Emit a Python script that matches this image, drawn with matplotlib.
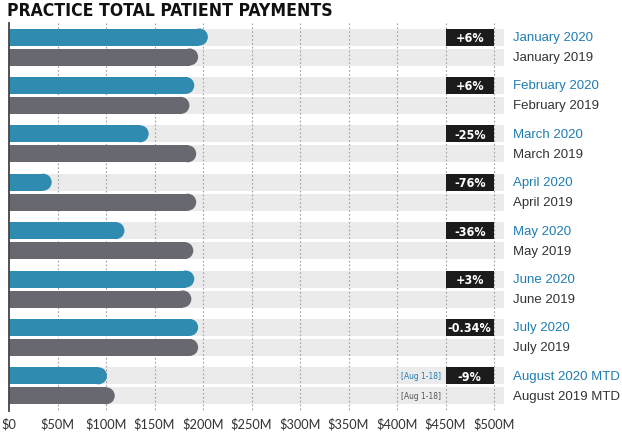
import matplotlib
matplotlib.use("Agg")
import matplotlib.pyplot as plt
from matplotlib.patches import Ellipse

# values in $M
months = ["January", "February", "March", "April", "May", "June", "July", "August"]
pay_2020 = [205, 191, 144, 44, 119, 191, 195, 101]
pay_2019 = [195, 186, 193, 193, 190, 188, 195, 109]
changes = ["+6%", "+6%", "-25%", "-76%", "-36%", "+3%", "-0.34%", "-9%"]
labels_2020 = [m + " 2020" for m in months[:-1]] + ["August 2020 MTD"]
labels_2019 = [m + " 2019" for m in months[:-1]] + ["August 2019 MTD"]
ticks = list(range(0, 501, 50))
tick_labels = ["$0"] + [f"${t}M" for t in ticks[1:]]

BLUE = "#2f8bb0"
GREY = "#686871"
BAND = "#ebebeb"
LBLUE = "#1f7db1"
LGREY = "#333333"

W, H = 622, 435
fig = plt.figure(figsize=(W / 100, H / 100), dpi=100)
ax = fig.add_axes([0, 0, 1, 1])
px = 485 / 500  # pixels per $M
ax.set_xlim(-9 / px, (W - 9) / px)
ax.set_ylim(H, 0)
ax.axis("off")

band_end = 510
bar_h = 17
r = bar_h / 2 / px

def row_y(i, second):
    return 38 + 48.4 * i + (20 if second else 0)

for i in range(len(months)):
    for second, vals, col in ((False, pay_2020, BLUE), (True, pay_2019, GREY)):
        y = row_y(i, second)
        ax.barh(y, band_end, height=bar_h, left=0, color=BAND, zorder=1)
        v = vals[i]
        ax.barh(y, v - r, height=bar_h, left=0, color=col, zorder=3,
                linewidth=0)
        # rounded end cap
        ax.add_patch(Ellipse((v - r, y), 2 * r, bar_h, color=col, lw=0, zorder=3))

# dotted grid + axis line
for t in ticks[1:]:
    ax.plot([t, t], [24, 412], color="#a0a0a0", lw=0.8, ls=(0, (1.5, 2)), zorder=2)
ax.plot([0, 0], [24, 412], color="#444444", lw=1.3, zorder=4)

for t, lab in zip(ticks, tick_labels):
    ax.text(t, 424, lab, ha="center", va="center", fontsize=9.2,
            family="Lato", color="#333333")

cond = dict(family="DejaVu Sans", stretch="condensed")
lab_x = (513 - 9) / px
for i in range(len(months)):
    y1, y2 = row_y(i, False), row_y(i, True)
    ax.barh(y1, 50, height=bar_h, left=450, color="#1b1b1b", zorder=5)
    ax.text(475, y1 + 0.5, changes[i], ha="center", va="center", color="white",
            fontsize=9, fontweight="bold", zorder=6, **cond)
    ax.text(lab_x, y1, labels_2020[i], ha="left", va="center",
            color=LBLUE, fontsize=9.5, family="Liberation Sans")
    ax.text(lab_x, y2, labels_2019[i], ha="left", va="center",
            color=LGREY, fontsize=9.5, family="Liberation Sans")

ax.text(445, row_y(7, False), "[Aug 1-18]", ha="right", va="center",
        color=LBLUE, fontsize=6, zorder=6, **cond)
ax.text(445, row_y(7, True), "[Aug 1-18]", ha="right", va="center",
        color="#555555", fontsize=6, zorder=6, **cond)

fig.text(7 / W, 1 - 11 / H, "PRACTICE TOTAL PATIENT PAYMENTS",
         ha="left", va="center", fontsize=12.6, fontweight="bold",
         color="#111111", **cond)

fig.savefig("out.png", dpi=100)
